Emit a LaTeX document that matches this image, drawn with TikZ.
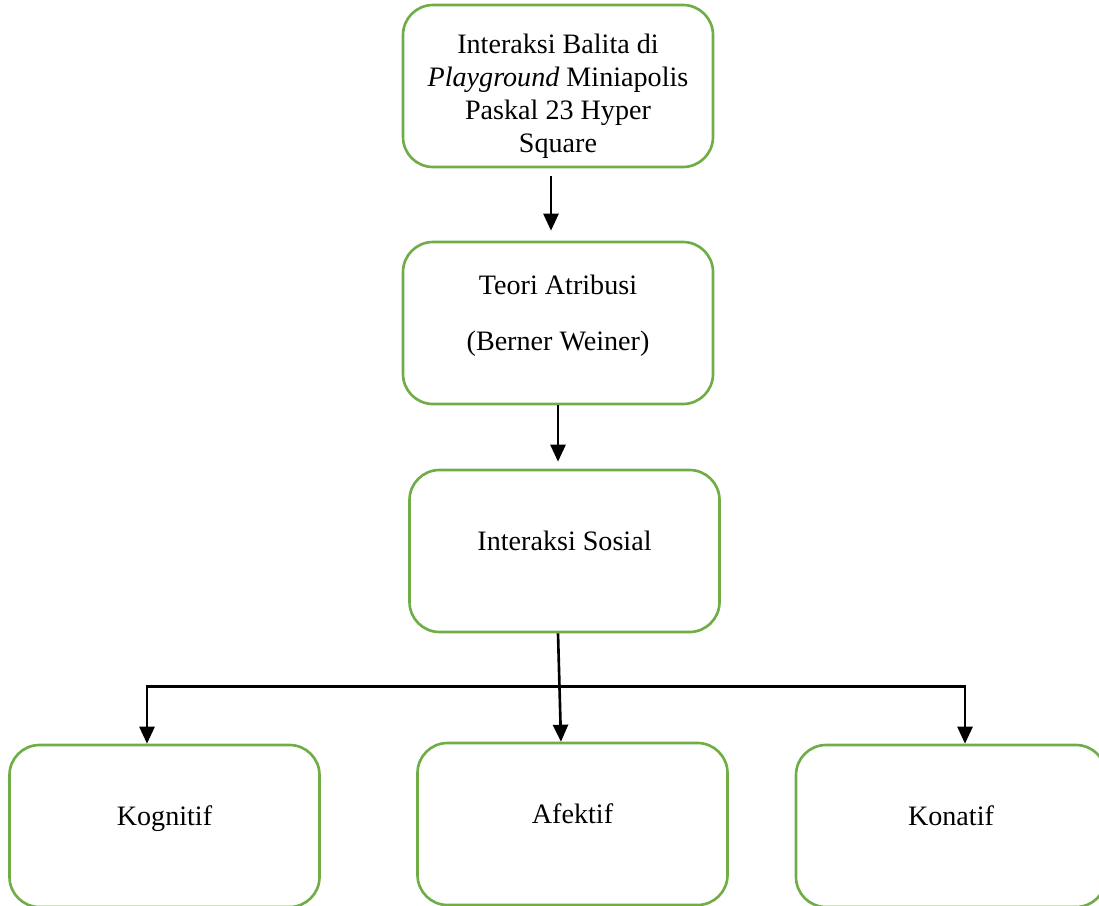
\documentclass[tikz,border=0pt]{standalone}
\usepackage{fontspec}
\setmainfont{Liberation Serif}
\usepackage{xcolor}
\usepackage{tikz}
\usetikzlibrary{arrows.meta,positioning,calc}
\definecolor{boxgreen}{HTML}{70AD47}
\tikzset{
  box/.style={draw=boxgreen, line width=1.5pt, rounded corners=0.6cm, align=center, fill=white, minimum width=6.2cm, minimum height=3.24cm, inner sep=4pt, font=\fontsize{16}{18.8}\selectfont},
  arrow/.style={-{Triangle[length=3.4mm,width=3mm]}, line width=1.5pt, draw=black},
  line/.style={line width=1.5pt, draw=black}
}
\begin{document}
\begin{tikzpicture}
  \useasboundingbox (0,0) rectangle (21.98,-18.1);

  \node[box] (balita) at (11.16,-1.72) {\rule{0pt}{23pt}Interaksi Balita di\\\textit{Playground} Miniapolis\\Paskal 23 Hyper\\Square};
  \node[box] (teori) at (11.16,-6.46) {Teori Atribusi\\[4.6mm](Berner Weiner)\\[-2.6mm]};
  \node[box] (sosial) at (11.29,-11.02) {Interaksi Sosial\\[-2.6mm]};

  \node[box] (kognitif) at (3.29,-16.52) {Kognitif\\[-2.4mm]};
  \node[box] (afektif) at (11.45,-16.48) {Afektif\\[-2.4mm]};
  \node[box] (konatif) at (19.02,-16.52) {Konatif\\[-2.4mm]};

  \draw[arrow] ([xshift=-1.4mm,yshift=-1.6mm]balita.south) -- ([xshift=-1.4mm,yshift=2mm]teori.north);
  \draw[arrow] (teori.south) -- ([yshift=1.4mm]teori.south |- sosial.north);

  \coordinate (fork) at ($(sosial.south)+(-0.13,-1.06)$);
  \draw[arrow] ([xshift=-1.3mm]sosial.south) -- ([xshift=-2.3mm]afektif.north);
  \draw[arrow] (fork) -| ([xshift=-3.5mm]kognitif.north);
  \draw[arrow] (fork) -| ([xshift=2.8mm]konatif.north);
\end{tikzpicture}
\end{document}
